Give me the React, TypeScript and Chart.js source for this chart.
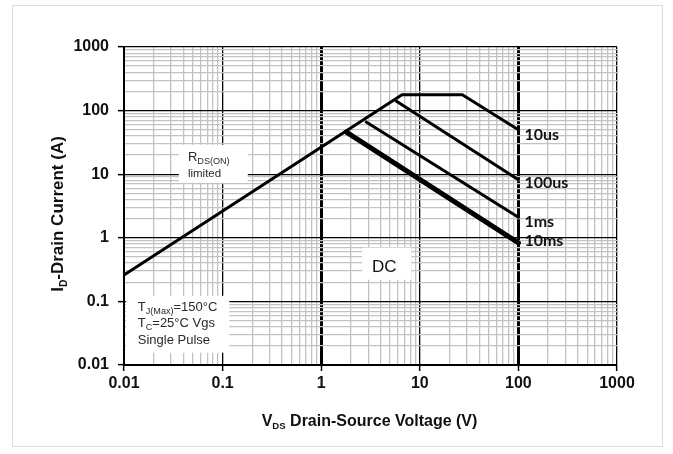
import React, { useEffect, useRef } from 'react';
import { Chart, registerables } from 'chart.js';

Chart.register(...registerables);

// ---------- data ----------
const xDecades = [0.01, 0.1, 1, 10, 100, 1000];
const xTickLabels = ['0.01', '0.1', '1', '10', '100', '1000'];
const yDecades = [0.01, 0.1, 1, 10, 100, 1000];
const yTickLabels = ['0.01', '0.1', '1', '10', '100', '1000'];

const seriesNames = ['10us', '100us', '1ms', '10ms'];
const v10us = [0.01, 6.6, 27, 100];
const i10us = [0.26, 177, 177, 50];
const v100us = [5.75, 100];
const i100us = [142, 8.2];
const v1ms = [2.86, 100];
const i1ms = [66, 2.1];
const v10ms = [1.8, 100];
const i10ms = [46, 0.83];

// ---------- styling ----------
const TICK_FONT = '"Liberation Sans", Arial, sans-serif';
const GRID_MINOR = '#c2c2c2';
const seriesWidths = [3, 3, 3, 5];
const labelOffsets = [
  { dx: 6, dy: 4 },
  { dx: 6, dy: 3 },
  { dx: 6, dy: 4 },
  { dx: 6, dy: -3 },
];

function isDecade(v: number) {
  const l = Math.log10(v);
  return Math.abs(l - Math.round(l)) < 1e-9;
}

function buildLogTicks(decades: number[]) {
  const t: { value: number }[] = [];
  for (let i = 0; i < decades.length - 1; i++) {
    for (let k = 1; k < 10; k++) t.push({ value: k * decades[i] });
  }
  t.push({ value: decades[decades.length - 1] });
  return t;
}

function labelFor(value: number, decades: number[], labels: string[]) {
  const idx = decades.findIndex((d) => Math.abs(Math.log10(d) - Math.log10(value)) < 1e-9);
  return idx >= 0 ? labels[idx] : '';
}

type Run = { t: string; sub?: boolean };

function drawRuns(
  ctx: CanvasRenderingContext2D,
  runs: Run[],
  x: number,
  cy: number,
  size: number,
  weight: string,
  family: string,
  align: 'left' | 'center',
  color: string,
  subScale = 0.68
) {
  const subSize = size * subScale;
  const widths = runs.map((r) => {
    ctx.font = `${weight} ${r.sub ? subSize : size}px ${family}`;
    return ctx.measureText(r.t).width;
  });
  const total = widths.reduce((a, b) => a + b, 0);
  let cx = align === 'center' ? x - total / 2 : x;
  const base = cy + size * 0.36;
  ctx.fillStyle = color;
  ctx.textBaseline = 'alphabetic';
  ctx.textAlign = 'left';
  runs.forEach((r, i) => {
    ctx.font = `${weight} ${r.sub ? subSize : size}px ${family}`;
    ctx.fillText(r.t, cx, r.sub ? base + size * 0.2 : base);
    cx += widths[i];
  });
  return total;
}

const annotations = {
  rdsBox: { x0: 0.036, x1: 0.18, y0: 7.3, y1: 29 },
  rdsText: { x: 0.0445, y1: 18.8, y2: 10.5 },
  tjBox: { x0: 0.0105, x1: 0.117, y0: 0.0156, y1: 0.1225 },
  tjText: { x: 0.0138, y1: 0.0822, y2: 0.0461, y3: 0.0249 },
  dcBox: { x0: 2.6, x1: 8.2, y0: 0.22, y1: 0.7 },
  dcText: { x: 4.35, y: 0.363 },
};

const annotPlugin = {
  id: 'annot',
  beforeDatasetsDraw(chart: any) {
    const { ctx } = chart;
    const xs = chart.scales.x;
    const ys = chart.scales.y;
    const px = (v: number) => xs.getPixelForValue(v);
    const py = (v: number) => ys.getPixelForValue(v);
    ctx.save();
    ctx.fillStyle = '#ffffff';
    for (const b of [annotations.rdsBox, annotations.tjBox, annotations.dcBox]) {
      ctx.fillRect(px(b.x0), py(b.y1), px(b.x1) - px(b.x0), py(b.y0) - py(b.y1));
    }
    const fam = '"Liberation Sans", Arial, sans-serif';
    const tc = '#2a2a2a';
    const r = annotations.rdsText;
    drawRuns(ctx, [{ t: 'R' }, { t: 'DS(ON)', sub: true }], px(r.x), py(r.y1), 13, 'normal', fam, 'left', tc, 0.7);
    drawRuns(ctx, [{ t: 'limited' }], px(r.x), py(r.y2), 11.5, 'normal', fam, 'left', tc);
    const t = annotations.tjText;
    drawRuns(ctx, [{ t: 'T' }, { t: 'J(Max)', sub: true }, { t: '=150°C' }], px(t.x), py(t.y1), 13, 'normal', fam, 'left', tc, 0.7);
    drawRuns(ctx, [{ t: 'T' }, { t: 'C', sub: true }, { t: '=25°C Vgs' }], px(t.x), py(t.y2), 13, 'normal', fam, 'left', tc, 0.7);
    drawRuns(ctx, [{ t: 'Single Pulse' }], px(t.x), py(t.y3), 13, 'normal', fam, 'left', tc);
    const d = annotations.dcText;
    drawRuns(ctx, [{ t: 'DC' }], px(d.x), py(d.y), 17, 'normal', fam, 'center', '#111');
    ctx.restore();
  },
  afterDatasetsDraw(chart: any) {
    const { ctx } = chart;
    ctx.save();
    chart.data.datasets.forEach((ds: any, i: number) => {
      const meta = chart.getDatasetMeta(i);
      const last = meta.data[meta.data.length - 1];
      const off = labelOffsets[i];
      drawRuns(ctx, [{ t: ds.label }], last.x + off.dx, last.y + off.dy, 16, 'bold', 'Lato, "Open Sans", sans-serif', 'left', '#111');
    });
    ctx.restore();
  },
  afterDraw(chart: any) {
    const { ctx, chartArea } = chart;
    ctx.save();
    const fam = '"Liberation Sans", Arial, sans-serif';
    // x title
    const cxT = (chartArea.left + chartArea.right) / 2;
    drawRuns(ctx, [{ t: 'V' }, { t: 'DS', sub: true }, { t: ' Drain-Source Voltage (V)' }], cxT - 1, 420, 16, 'bold', fam, 'center', '#111', 0.6);
    // y title
    ctx.translate(57, 214);
    ctx.rotate(-Math.PI / 2);
    drawRuns(ctx, [{ t: 'I' }, { t: 'D', sub: true }, { t: '-Drain Current (A)' }], 0, 0, 17, 'bold', fam, 'center', '#111', 0.6);
    ctx.restore();
    // outer frame
    ctx.save();
    ctx.strokeStyle = '#dcdcdc';
    ctx.lineWidth = 1;
    ctx.strokeRect(12.5, 5.5, 650, 441);
    ctx.restore();
  },
};

function toPoints(xs: number[], ys: number[]) {
  return xs.map((x, i) => ({ x, y: ys[i] }));
}

function gridColor(ctx: any) {
  const v = ctx.tick?.value;
  return v !== undefined && isDecade(v) ? '#000000' : GRID_MINOR;
}

export default function App() {
  const ref = useRef<HTMLCanvasElement | null>(null);
  useEffect(() => {
    document.body.style.margin = '0';
    const canvas = ref.current;
    if (!canvas) return;
    const series = [
      toPoints(v10us, i10us),
      toPoints(v100us, i100us),
      toPoints(v1ms, i1ms),
      toPoints(v10ms, i10ms),
    ];
    const chart = new Chart(canvas, {
      type: 'scatter',
      data: {
        datasets: series.map((pts, i) => ({
          label: seriesNames[i],
          data: pts,
          showLine: true,
          borderColor: '#000',
          backgroundColor: '#000',
          borderWidth: seriesWidths[i],
          pointRadius: 0,
          tension: 0,
          borderJoinStyle: 'round',
          borderCapStyle: 'round',
        })),
      },
      options: {
        responsive: false,
        animation: false,
        devicePixelRatio: 1,
        layout: { padding: { top: 47, right: 56, left: 0, bottom: 0 } },
        plugins: {
          legend: { display: false },
          tooltip: { enabled: false },
        },
        scales: {
          x: {
            type: 'logarithmic',
            min: 0.01,
            max: 1000,
            afterBuildTicks: (s: any) => {
              s.ticks = buildLogTicks(xDecades);
            },
            afterFit: (s: any) => {
              s.height = 89;
            },
            ticks: {
              autoSkip: false,
              maxRotation: 0,
              padding: 3,
              color: '#111',
              font: { family: TICK_FONT, size: 16, weight: 'bold' },
              callback: (v: any) => labelFor(Number(v), xDecades, xTickLabels),
            },
            grid: {
              color: gridColor,
              lineWidth: (ctx: any) => {
                const v = ctx.tick?.value;
                if (v === 1 || v === 100) return 3;
                return v !== undefined && isDecade(v) ? 1.3 : 1.3;
              },
              tickLength: 6,
              tickColor: (ctx: any) => {
                const v = ctx.tick?.value;
                return v !== undefined && isDecade(v) ? '#000' : 'rgba(0,0,0,0)';
              },
              tickWidth: 1.5,
            },
            border: { display: true, color: '#000', width: 2 },
          },
          y: {
            type: 'logarithmic',
            min: 0.01,
            max: 1000,
            afterBuildTicks: (s: any) => {
              s.ticks = buildLogTicks(yDecades);
            },
            afterFit: (s: any) => {
              s.width = 124;
            },
            ticks: {
              autoSkip: false,
              padding: 9,
              color: '#111',
              font: { family: TICK_FONT, size: 16, weight: 'bold' },
              callback: (v: any) => labelFor(Number(v), yDecades, yTickLabels),
            },
            grid: {
              color: gridColor,
              lineWidth: (ctx: any) => {
                const v = ctx.tick?.value;
                return v !== undefined && isDecade(v) ? 1.3 : 1.3;
              },
              tickLength: 6,
              tickColor: (ctx: any) => {
                const v = ctx.tick?.value;
                return v !== undefined && isDecade(v) ? '#000' : 'rgba(0,0,0,0)';
              },
              tickWidth: 1.5,
            },
            border: { display: true, color: '#000', width: 2 },
          },
        },
      } as any,
      plugins: [annotPlugin],
    });
    return () => chart.destroy();
  }, []);
  return (
    <div style={{ width: 673, height: 454, background: '#fff' }}>
      <canvas ref={ref} width={673} height={454} style={{ display: 'block' }} />
    </div>
  );
}
